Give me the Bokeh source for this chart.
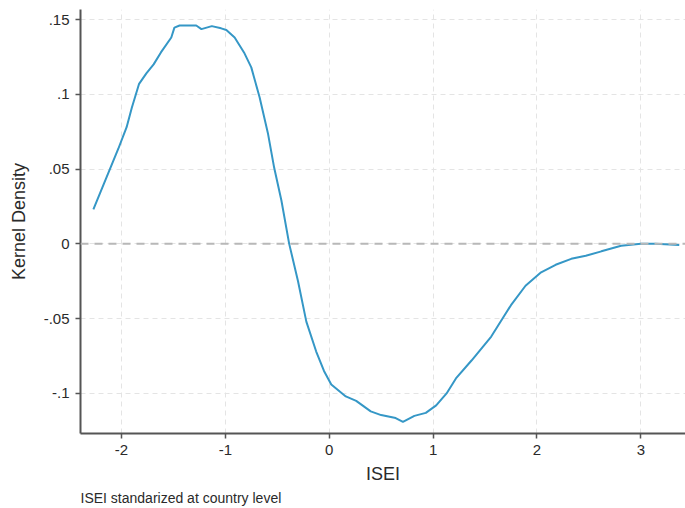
from bokeh.plotting import figure
from bokeh.models import FixedTicker, Span, Range1d, Title
from bokeh.embed import file_html
from bokeh.resources import INLINE

isei = [-2.27, -2.03, -1.95, -1.90, -1.83, -1.76, -1.69, -1.62, -1.52, -1.49, -1.44,
        -1.28, -1.23, -1.13, -1.04, -0.99, -0.91, -0.82, -0.75, -0.67, -0.59, -0.53,
        -0.46, -0.385, -0.30, -0.22, -0.125, -0.05, 0.02, 0.16, 0.26, 0.40, 0.50,
        0.64, 0.71, 0.82, 0.93, 1.03, 1.13, 1.22, 1.37, 1.56, 1.75, 1.89, 2.04,
        2.18, 2.33, 2.47, 2.62, 2.81, 3.00, 3.14, 3.37]
density = [0.023, 0.0636, 0.078, 0.091, 0.107, 0.114, 0.120, 0.128, 0.138, 0.1446, 0.146,
           0.146, 0.1436, 0.1456, 0.1441, 0.143, 0.138, 0.128, 0.118, 0.098, 0.074, 0.051,
           0.029, 0.0, -0.025, -0.052, -0.072, -0.085, -0.094, -0.102, -0.105, -0.112, -0.1145,
           -0.1165, -0.119, -0.115, -0.113, -0.108, -0.100, -0.090, -0.078, -0.062, -0.041, -0.028, -0.019,
           -0.014, -0.010, -0.008, -0.005, -0.0013, 0.0, 0.0, -0.0007]

x_ticks = [-2, -1, 0, 1, 2, 3]
x_tick_labels = ["-2", "-1", "0", "1", "2", "3"]
y_ticks = [-0.1, -0.05, 0, 0.05, 0.1, 0.15]
y_tick_labels = ["-.1", "-.05", "0", ".05", ".1", ".15"]

FONT = "Liberation Sans"

p = figure(width=685, height=508, output_backend="svg", toolbar_location=None,
           x_range=Range1d(-2.394, 3.43), y_range=Range1d(-0.1268, 0.1567),
           min_border_left=80, min_border_right=0, min_border_top=9, min_border_bottom=75)
p.outline_line_color = None
p.background_fill_color = "white"
p.border_fill_color = "white"

p.line(isei, density, line_color="#3597c6", line_width=2)

p.add_layout(Span(location=0, dimension="width", line_color="#b8b8b8",
                  line_width=2, line_dash="8 6"))

for ax in (p.xaxis[0], p.yaxis[0]):
    ax.axis_line_color = "#555555"
    ax.axis_line_width = 2
    ax.major_tick_line_color = "#555555"
    ax.major_tick_line_width = 1.5
    ax.major_tick_out = 5
    ax.major_tick_in = 0
    ax.minor_tick_line_color = None
    ax.major_label_text_font = FONT
    ax.major_label_text_font_size = "15px"
    ax.major_label_text_color = "#2a2a2a"
    ax.axis_label_text_font = FONT
    ax.axis_label_text_font_size = "18px"
    ax.axis_label_text_font_style = "normal"
    ax.axis_label_text_color = "#2a2a2a"

p.xaxis.ticker = FixedTicker(ticks=x_ticks)
p.yaxis.ticker = FixedTicker(ticks=y_ticks)
p.xaxis.major_label_overrides = {v: s for v, s in zip(x_ticks, x_tick_labels)}
p.yaxis.major_label_overrides = {v: s for v, s in zip(y_ticks, y_tick_labels)}
p.yaxis.major_label_orientation = "horizontal"
p.xaxis.axis_label = "ISEI"
p.yaxis.axis_label = "Kernel Density"
p.xaxis.major_label_standoff = 6
p.xaxis.axis_label_standoff = 6
p.yaxis.major_label_standoff = 6
p.yaxis.axis_label_standoff = 12

for g in (p.xgrid[0], p.ygrid[0]):
    g.grid_line_color = "#e4e4e4"
    g.grid_line_dash = "5 4"
    g.grid_line_width = 1

note = Title(text="ISEI standarized at country level", align="left",
             text_font=FONT, text_font_size="14px", text_font_style="normal",
             text_color="#2a2a2a", standoff=2, offset=0)
p.add_layout(note, "below")

open("out.html", "w").write(file_html(p, INLINE))
